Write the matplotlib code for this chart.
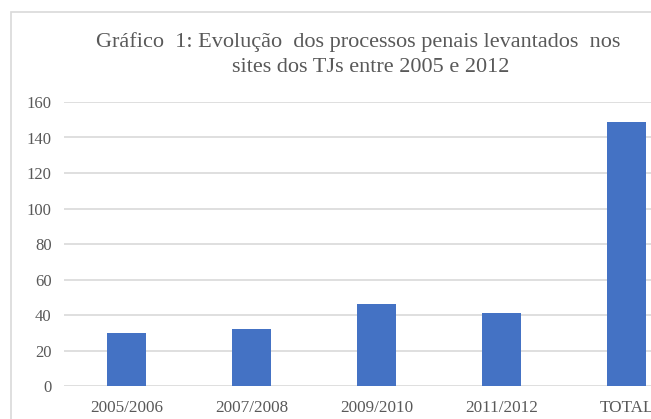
import matplotlib
matplotlib.use('Agg')
import matplotlib.pyplot as plt
from matplotlib.patches import Rectangle

# data
periods = ['2005/2006', '2007/2008', '2009/2010', '2011/2012', 'TOTAL']
processos = [30, 32, 46, 41, 149]
yticks = [0, 20, 40, 60, 80, 100, 120, 140, 160]

title_1 = u'Gráfico  1: Evolução  dos processos penais levantados  nos'
title_2 = u'sites dos TJs entre 2005 e 2012'

W, H = 651, 419
fig = plt.figure(figsize=(W / 100, H / 100), dpi=100)

# outer chart frame (cut off at right/bottom like the screenshot)
fig.patches.append(Rectangle((11 / W, -0.1), 1.2, 1 - 12 / H + 0.1,
                             transform=fig.transFigure, fill=False,
                             edgecolor='#d9d9d9', linewidth=1.2))

# plot area runs past the right edge of the picture
ax = fig.add_axes([64 / W, 33 / H, 625 / W, 284 / H])
x = range(len(periods))
ax.bar(x, processos, width=0.31, color='#4472C4', zorder=3)
ax.set_xlim(-0.5, len(periods) - 0.5)
ax.set_ylim(0, 160)
ax.set_yticks(yticks)
ax.set_xticks(list(x))
ax.set_xticklabels(periods, fontfamily='Liberation Serif', fontsize=12.3, color='#595959')
ax.set_yticklabels([str(v) for v in yticks], fontfamily='Liberation Serif', fontsize=12, color='#595959')
ax.tick_params(axis='y', length=0, pad=9)
ax.tick_params(axis='x', length=0, pad=10)
ax.grid(axis='y', color='#d9d9d9', linewidth=1.2, zorder=0)
for s in ax.spines.values():
    s.set_visible(False)
ax.set_axisbelow(True)

fig.text(358 / W, 1 - 42 / H, title_1, ha='center', va='center',
         fontfamily='Liberation Serif', fontsize=16, color='#595959')
fig.text(371 / W, 1 - 68 / H, title_2, ha='center', va='center',
         fontfamily='Liberation Serif', fontsize=16, color='#595959')

fig.savefig('out.png', dpi=100)
